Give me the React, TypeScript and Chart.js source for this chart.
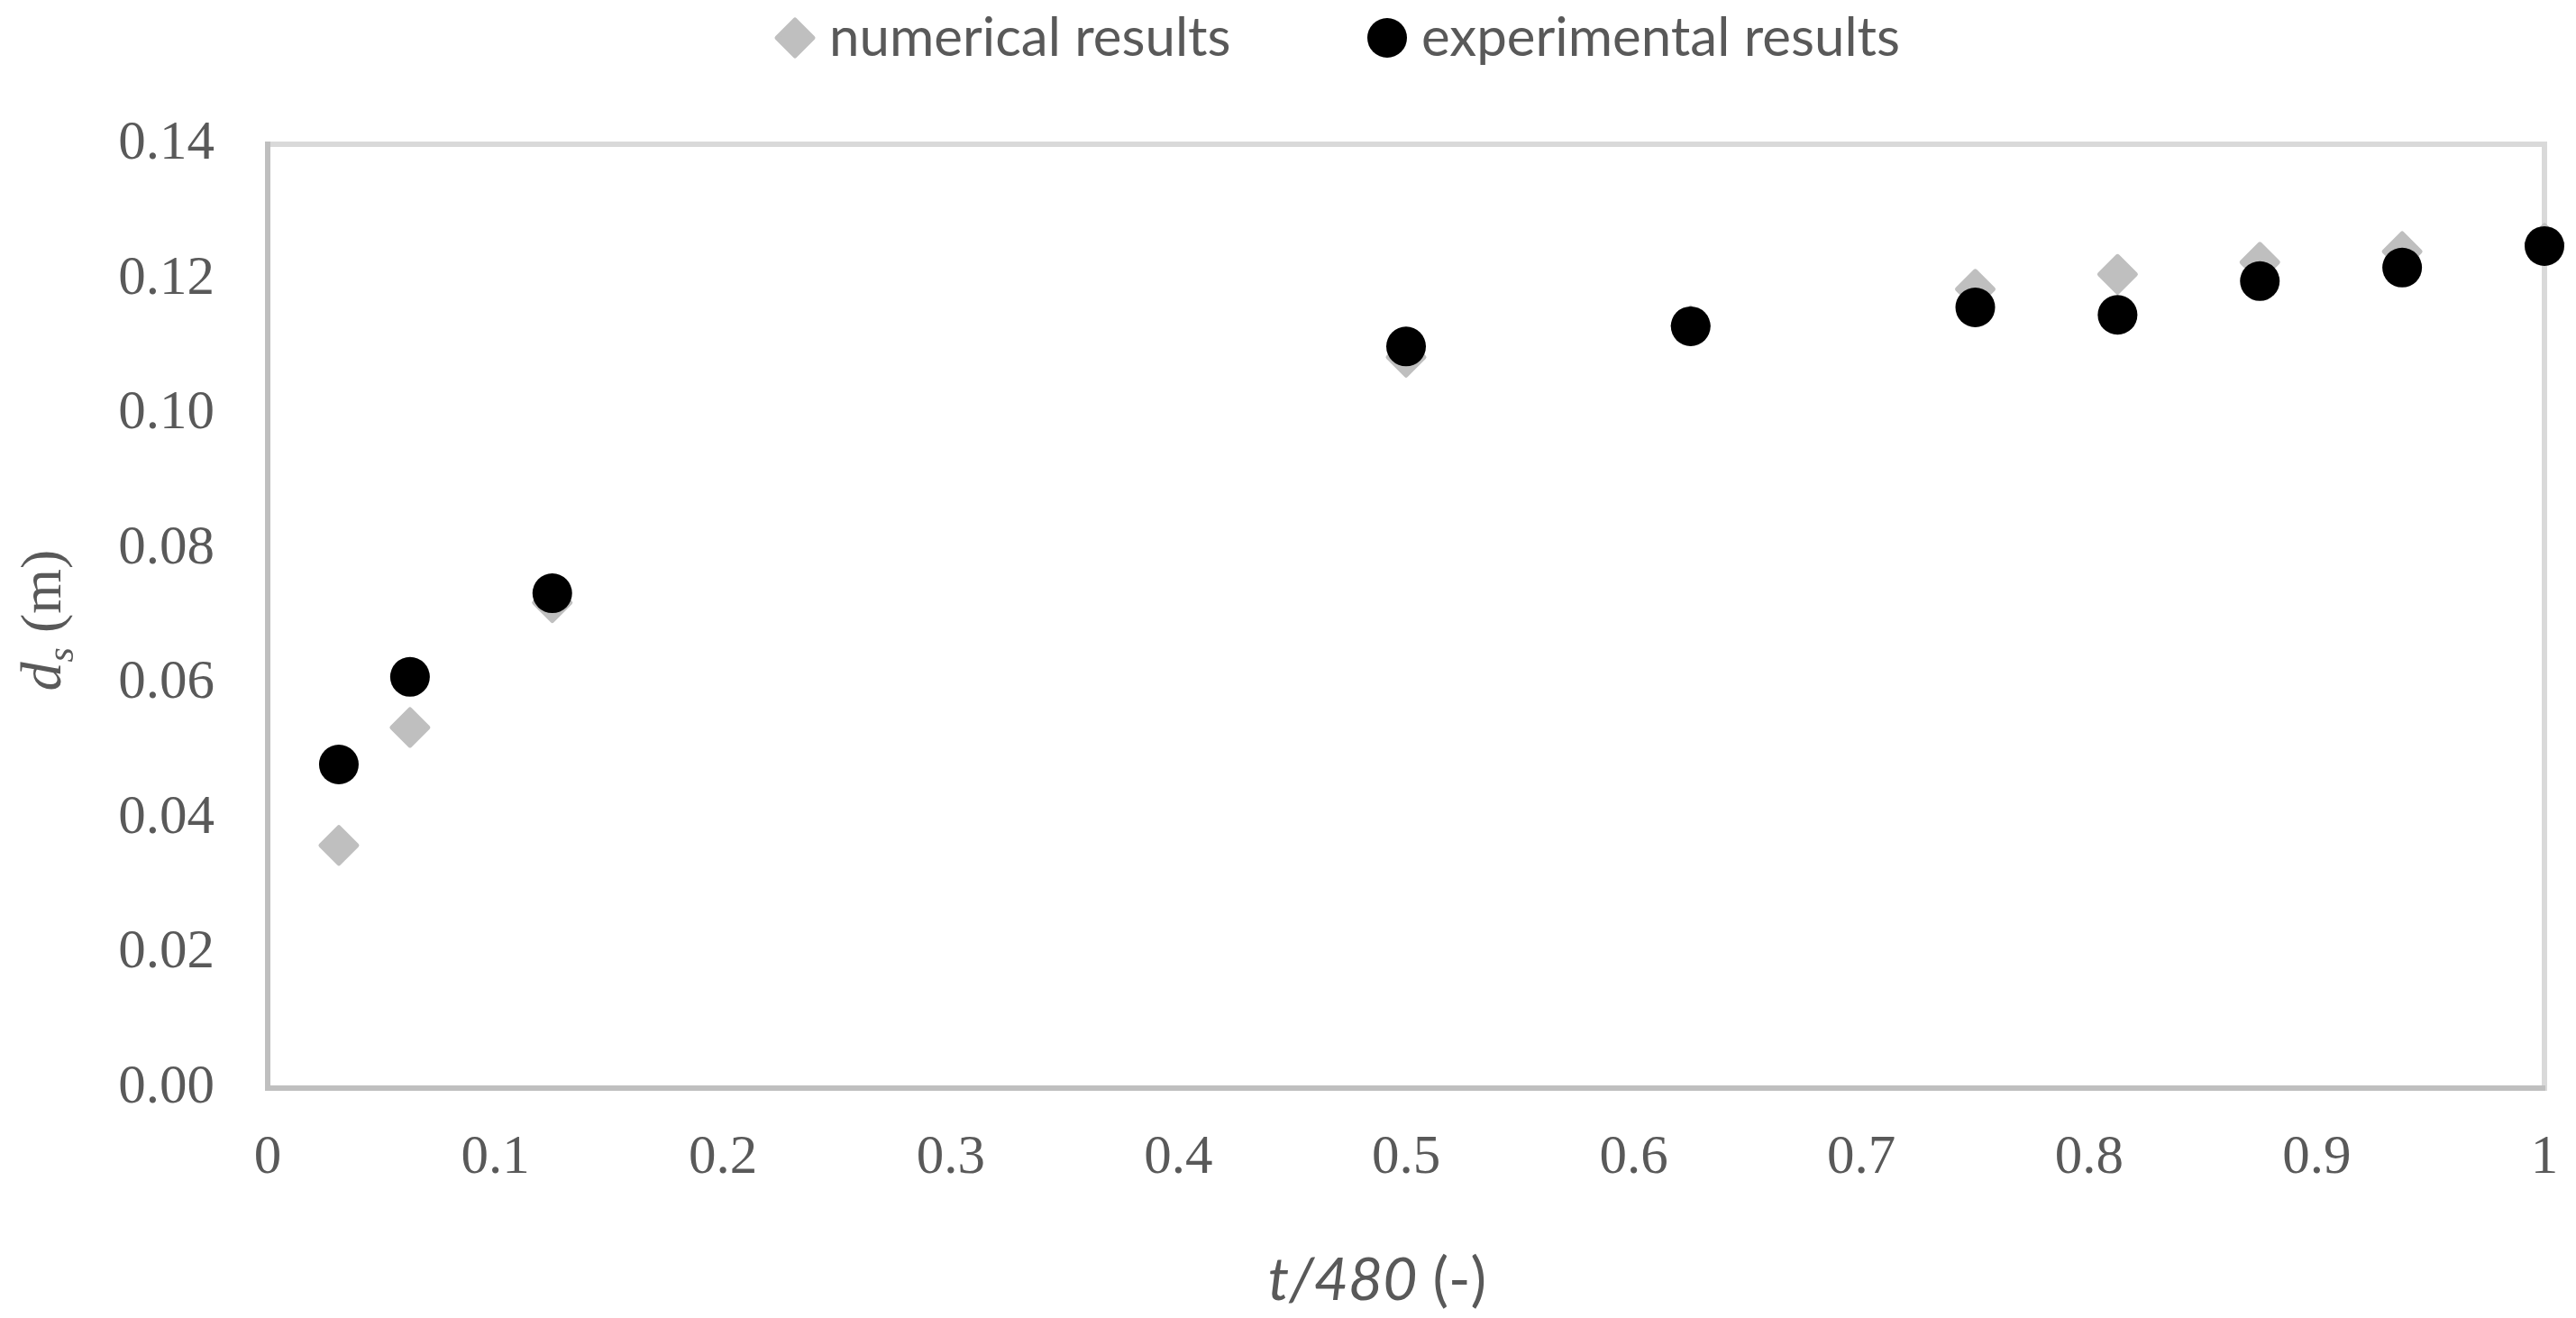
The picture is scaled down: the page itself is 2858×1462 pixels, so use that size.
import React, { useEffect, useRef } from "react";
import { Chart, registerables } from "chart.js";

Chart.register(...registerables);

// ---- data ----
const tValues = [0.03125, 0.0625, 0.125, 0.5, 0.625, 0.75, 0.8125, 0.875, 0.9375, 1];
const numericalResults = [0.036, 0.0535, 0.072, 0.1084, 0.1131, 0.1185, 0.1207, 0.1225, 0.1241, 0.1253];
const experimentalResults = [0.048, 0.061, 0.0734, 0.11, 0.113, 0.1158, 0.1147, 0.1197, 0.1217, 0.1249];
const seriesLabels = ["numerical results", "experimental results"];
const yTitleMain = "d";
const yTitleSub = "s";
const yTitleRest = " (m)";
const xTitleItalic = "t/480";
const xTitleRest = " (-)";

const TEXT = "#595959";
const GRAY = "#bfbfbf";
const BORDER_LIGHT = "#d9d9d9";
const BLACK = "#000000";
const SERIF = "'Liberation Serif', 'Times New Roman', serif";
const SANS = "Lato, 'Open Sans', sans-serif";

const W = 2858;
const H = 1462;

const framePlugin = {
  id: "frame",
  beforeDraw(chart: any) {
    const { ctx, chartArea } = chart;
    ctx.save();
    ctx.strokeStyle = BORDER_LIGHT;
    ctx.lineWidth = 6;
    ctx.strokeRect(chartArea.left, chartArea.top, chartArea.right - chartArea.left, chartArea.bottom - chartArea.top);
    ctx.restore();
  },
  beforeDatasetDraw(chart: any) {
    chart.ctx.lineJoin = "round";
  },
};

const drawMarker = (ctx: CanvasRenderingContext2D, style: string, x: number, y: number, color: string) => {
  ctx.save();
  ctx.fillStyle = color;
  ctx.strokeStyle = color;
  ctx.lineJoin = "round";
  ctx.lineWidth = 5;
  ctx.beginPath();
  if (style === "circle") {
    ctx.arc(x, y, 22, 0, Math.PI * 2);
    ctx.fill();
  } else {
    const r = 20;
    ctx.moveTo(x - r, y);
    ctx.lineTo(x, y - r);
    ctx.lineTo(x + r, y);
    ctx.lineTo(x, y + r);
    ctx.closePath();
    ctx.fill();
    ctx.stroke();
  }
  ctx.restore();
};

const textPlugin = {
  id: "texts",
  afterDraw(chart: any) {
    const { ctx } = chart;
    ctx.save();
    // legend
    ctx.font = `60px ${SANS}`;
    ctx.fillStyle = TEXT;
    ctx.textBaseline = "alphabetic";
    ctx.textAlign = "left";
    const datasets = chart.data.datasets;
    const markerXs = [882, 1539];
    datasets.forEach((ds: any, i: number) => {
      drawMarker(ctx, ds.pointStyle, markerXs[i], 42, ds.backgroundColor);
      ctx.fillStyle = TEXT;
      ctx.fillText(ds.label, markerXs[i] + 38, 62);
    });

    // y title (rotated)
    ctx.save();
    ctx.translate(67, 688);
    ctx.rotate(-Math.PI / 2);
    const fMain = `italic 64px ${SERIF}`;
    const fSub = `italic 42px ${SERIF}`;
    const fRest = `64px ${SERIF}`;
    ctx.font = fMain;
    const w1 = ctx.measureText(yTitleMain).width;
    ctx.font = fSub;
    const w2 = ctx.measureText(yTitleSub).width;
    ctx.font = fRest;
    const w3 = ctx.measureText(yTitleRest).width;
    let x = -(w1 + w2 + w3) / 2;
    ctx.font = fMain;
    ctx.fillText(yTitleMain, x, 0);
    x += w1;
    ctx.font = fSub;
    ctx.fillText(yTitleSub, x, 14);
    x += w2;
    ctx.font = fRest;
    ctx.fillText(yTitleRest, x, 0);
    ctx.restore();

    // x title
    const fxi = `italic 66px ${SANS}`;
    const fxr = `66px ${SANS}`;
    ctx.font = fxi;
    const a = ctx.measureText(xTitleItalic).width;
    ctx.font = fxr;
    const b = ctx.measureText(xTitleRest).width;
    let xx = 1528 - (a + b) / 2;
    ctx.font = fxi;
    ctx.fillText(xTitleItalic, xx, 1442);
    ctx.font = fxr;
    ctx.fillText(xTitleRest, xx + a, 1442);
    ctx.restore();
  },
};

export default function App() {
  const ref = useRef<HTMLCanvasElement | null>(null);
  useEffect(() => {
    if (!ref.current) return;
    const chart = new Chart(ref.current, {
      type: "scatter",
      data: {
        datasets: [
          {
            label: seriesLabels[0],
            data: tValues.map((t, i) => ({ x: t, y: numericalResults[i] })),
            pointStyle: "rectRot",
            backgroundColor: GRAY,
            borderColor: GRAY,
            borderWidth: 5,
            pointRadius: 20,
            pointHoverRadius: 20,
            order: 1,
            clip: false,
          } as any,
          {
            label: seriesLabels[1],
            data: tValues.map((t, i) => ({ x: t, y: experimentalResults[i] })),
            pointStyle: "circle",
            backgroundColor: BLACK,
            borderColor: BLACK,
            borderWidth: 0,
            pointRadius: 22,
            pointHoverRadius: 22,
            order: 0,
            clip: false,
          } as any,
        ],
      },
      options: {
        responsive: false,
        animation: false,
        devicePixelRatio: 1,
        layout: { autoPadding: false, padding: { left: 0, right: 35, top: 160, bottom: 0 } },
        plugins: { legend: { display: false }, tooltip: { enabled: false } },
        events: [],
        scales: {
          x: {
            type: "linear",
            min: 0,
            max: 1,
            grid: { display: false, drawTicks: false },
            border: { display: true, color: GRAY, width: 6 },
            ticks: {
              stepSize: 0.1,
              maxRotation: 0,
              autoSkip: false,
              padding: 41,
              color: TEXT,
              font: { family: SERIF, size: 61 },
              callback: (v: any) => String(Math.round(Number(v) * 10) / 10),
            },
            afterFit: (s: any) => {
              s.height = 255;
              s.paddingLeft = 0;
              s.paddingRight = 0;
            },
          },
          y: {
            type: "linear",
            min: 0,
            max: 0.14,
            grid: { display: false, drawTicks: false },
            border: { display: true, color: GRAY, width: 6 },
            ticks: {
              stepSize: 0.02,
              padding: 59,
              color: TEXT,
              font: { family: SERIF, size: 61 },
              callback: (v: any) => Number(v).toFixed(2),
            },
            afterFit: (s: any) => {
              s.width = 297;
              s.paddingTop = 0;
              s.paddingBottom = 0;
            },
          },
        },
      },
      plugins: [framePlugin, textPlugin],
    });
    return () => chart.destroy();
  }, []);
  return (
    <div style={{ position: "fixed", left: 0, top: 0, width: W, height: H, background: "#fff" }}>
      <canvas ref={ref} width={W} height={H} style={{ display: "block", width: W, height: H }} />
    </div>
  );
}
